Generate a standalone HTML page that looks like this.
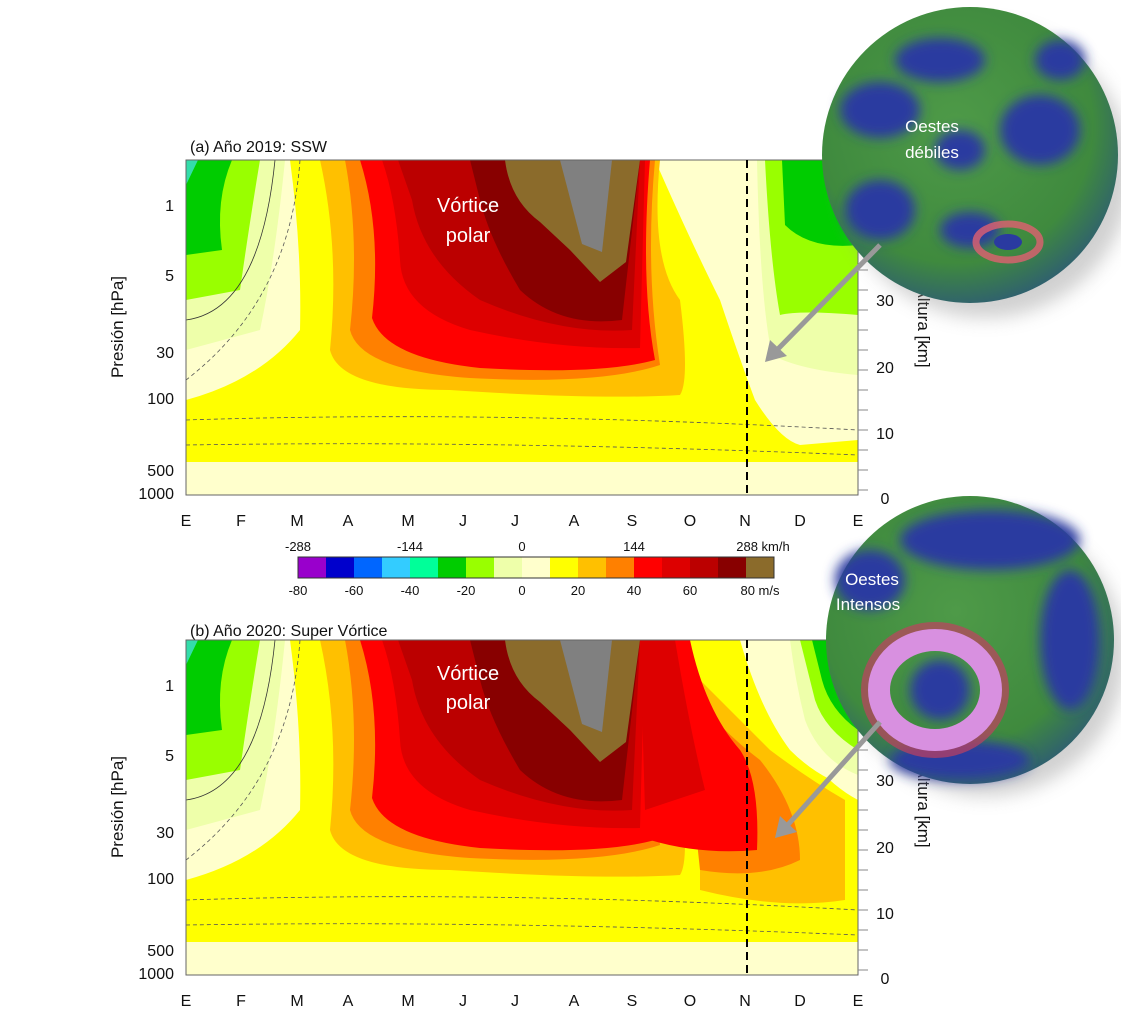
<!DOCTYPE html>
<html><head><meta charset="utf-8"><style>
body{margin:0;background:#fff;}
svg{display:block;font-family:"Liberation Sans",sans-serif;}
</style></head><body>
<svg width="1121" height="1031" viewBox="0 0 1121 1031" xmlns="http://www.w3.org/2000/svg">
<defs>
<radialGradient id="gl" cx="0.45" cy="0.4" r="0.62">
<stop offset="0" stop-color="#4e9a48"/><stop offset="0.75" stop-color="#3f8a3e"/><stop offset="1" stop-color="#2f5f70"/>
</radialGradient>
<filter id="blur"><feGaussianBlur stdDeviation="9"/></filter>
<filter id="blur2"><feGaussianBlur stdDeviation="6"/></filter>
<g id="left">
<rect x="186" y="160" width="672" height="335" fill="#ffffcc"/>
<path d="M186,160 L285,160 Q275,260 260,330 L186,350 Z" fill="#eeffaa"/>
<path d="M186,160 L260,160 Q250,220 240,290 L186,300 Z" fill="#99ff00"/>
<path d="M186,160 L232,160 Q215,200 222,250 L186,255 Z" fill="#00cc00"/>
<path d="M186,160 L198,160 L186,185 Z" fill="#33ddaa"/>
</g>
<g id="axes">
<g fill="none" stroke="#555" stroke-width="0.8" stroke-dasharray="4,3">
<path d="M186,420 Q500,410 858,430"/><path d="M186,445 Q500,440 858,455"/><path d="M300,160 Q290,300 186,380"/>
</g>
<path d="M186,320 Q260,310 275,160" fill="none" stroke="#333" stroke-width="0.8"/>
<rect x="186" y="160" width="672" height="335" fill="none" stroke="#666" stroke-width="1"/>
<g stroke="#888" stroke-width="1">
<path d="M858,170h10M858,190h10M858,210h10M858,230h10M858,250h10M858,270h10M858,290h10M858,310h10M858,330h10M858,350h10M858,370h10M858,390h10M858,410h10M858,430h10M858,450h10M858,470h10M858,490h10"/>
</g>
<line x1="747" y1="160" x2="747" y2="495" stroke="#000" stroke-width="2" stroke-dasharray="8,5"/>
<g font-size="16" fill="#111" text-anchor="end">
<text x="174" y="211">1</text><text x="174" y="281">5</text><text x="174" y="358">30</text>
<text x="174" y="404">100</text><text x="174" y="476">500</text><text x="174" y="499">1000</text>
</g>
<g font-size="16" fill="#111" text-anchor="middle">
<text x="885" y="306">30</text><text x="885" y="373">20</text><text x="885" y="439">10</text><text x="885" y="504">0</text>
</g>
<g font-size="16" fill="#111" text-anchor="middle">
<text x="186" y="526">E</text><text x="241" y="526">F</text><text x="297" y="526">M</text><text x="348" y="526">A</text>
<text x="408" y="526">M</text><text x="463" y="526">J</text><text x="515" y="526">J</text><text x="574" y="526">A</text>
<text x="632" y="526">S</text><text x="690" y="526">O</text><text x="745" y="526">N</text><text x="800" y="526">D</text><text x="858" y="526">E</text>
</g>
<text transform="translate(123,327) rotate(-90)" font-size="17" text-anchor="middle" fill="#111">Presión [hPa]</text>
<text transform="translate(918,327) rotate(90)" font-size="17" text-anchor="middle" fill="#111">Altura [km]</text>
</g>
<g id="core">
<path d="M320,160 L660,160 Q650,260 680,300 Q690,380 680,395 Q600,400 450,390 Q340,390 330,350 Q340,250 320,160 Z" fill="#ffc000"/>
<path d="M345,160 L655,160 Q645,270 660,365 Q600,385 470,378 Q360,370 350,330 Q360,240 345,160 Z" fill="#ff8000"/>
<path d="M360,160 L650,160 Q640,280 655,360 Q600,375 480,368 Q385,358 372,318 Q382,230 360,160 Z" fill="#ff0000"/>
<path d="M382,160 L645,160 L640,348 Q560,350 470,330 Q402,310 400,260 Q396,200 382,160Z" fill="#dd0000"/>
<path d="M398,160 L640,160 L632,330 Q560,335 480,300 Q422,260 412,200 Z" fill="#bb0000"/>
<path d="M470,160 L640,160 L622,320 Q560,328 520,290 Q490,240 480,200 Z" fill="#880000"/>
<path d="M505,160 L640,160 L626,262 L600,282 L570,250 L540,222 Q510,200 505,160Z" fill="#8b6b2b"/>
<path d="M560,160 L612,160 L602,252 L582,244 Z" fill="#808080"/>
</g>
</defs>

<!-- Panel a -->
<use href="#left"/>
<path d="M290,160 L655,160 Q690,240 720,300 Q740,360 755,400 Q780,440 800,445 L858,440 L858,462 L186,462 L186,400 Q260,380 300,330 Q302,250 290,160 Z" fill="#ffff00"/>
<use href="#core"/>
<path d="M757,160 L858,160 L858,375 Q800,370 772,355 Q760,300 757,160Z" fill="#eeffaa"/>
<path d="M765,160 L858,160 L858,315 Q800,310 780,315 Q770,260 765,160Z" fill="#99ff00"/>
<path d="M782,160 L858,160 L858,245 Q810,250 785,225Z" fill="#00cc00"/>
<use href="#axes"/>
<text x="190" y="152" font-size="16" fill="#111">(a) Año 2019: SSW</text>
<text x="468" y="212" font-size="20" fill="#fff" text-anchor="middle">Vórtice</text>
<text x="468" y="242" font-size="20" fill="#fff" text-anchor="middle">polar</text>

<!-- Panel b -->
<g transform="translate(0,480)">
<use href="#left"/>
<path d="M290,160 L740,160 Q760,230 790,270 Q820,300 858,310 L858,462 L186,462 L186,400 Q260,380 300,330 Q302,250 290,160 Z" fill="#ffff00"/>
<path d="M700,200 Q740,240 770,270 Q810,300 845,320 L845,420 Q780,430 700,410 Z" fill="#ffc000"/>
<path d="M680,200 Q720,250 760,280 Q800,330 800,380 Q760,400 700,390 Z" fill="#ff8000"/>
<use href="#core"/>
<path d="M640,160 L690,160 Q705,230 740,270 Q760,300 757,370 Q700,375 650,360 Z" fill="#ff0000"/>
<path d="M640,160 L675,160 Q690,250 705,310 L645,330 Z" fill="#dd0000"/>
<path d="M760,160 L858,160 L858,320 Q820,300 790,250 Q770,200 760,160Z" fill="#ffffcc"/>
<path d="M790,160 L858,160 L858,295 Q820,280 805,240 Q795,200 790,160Z" fill="#eeffaa"/>
<path d="M800,160 L858,160 L858,270 Q825,250 815,220Z" fill="#99ff00"/>
<path d="M812,160 L858,160 L858,250 Q830,230 822,200Z" fill="#00cc00"/>
<use href="#axes"/>
</g>
<text x="190" y="636" font-size="16" fill="#111">(b) Año 2020: Super Vórtice</text>
<text x="468" y="680" font-size="20" fill="#fff" text-anchor="middle">Vórtice</text>
<text x="468" y="709" font-size="20" fill="#fff" text-anchor="middle">polar</text>

<!-- colorbar -->
<g>
<rect x="298" y="557" width="28" height="21" fill="#9900cc"/><rect x="326" y="557" width="28" height="21" fill="#0000cc"/>
<rect x="354" y="557" width="28" height="21" fill="#0066ff"/><rect x="382" y="557" width="28" height="21" fill="#33ccff"/>
<rect x="410" y="557" width="28" height="21" fill="#00ff99"/><rect x="438" y="557" width="28" height="21" fill="#00cc00"/>
<rect x="466" y="557" width="28" height="21" fill="#99ff00"/><rect x="494" y="557" width="28" height="21" fill="#eeffaa"/>
<rect x="522" y="557" width="28" height="21" fill="#ffffcc"/><rect x="550" y="557" width="28" height="21" fill="#ffff00"/>
<rect x="578" y="557" width="28" height="21" fill="#ffc000"/><rect x="606" y="557" width="28" height="21" fill="#ff8000"/>
<rect x="634" y="557" width="28" height="21" fill="#ff0000"/><rect x="662" y="557" width="28" height="21" fill="#dd0000"/>
<rect x="690" y="557" width="28" height="21" fill="#bb0000"/><rect x="718" y="557" width="28" height="21" fill="#880000"/>
<rect x="746" y="557" width="28" height="21" fill="#8b6b2b"/>
<rect x="298" y="557" width="476" height="21" fill="none" stroke="#333"/>
</g>
<g font-size="13" fill="#111" text-anchor="middle">
<text x="298" y="551">-288</text><text x="410" y="551">-144</text><text x="522" y="551">0</text><text x="634" y="551">144</text><text x="763" y="551">288 km/h</text>
<text x="298" y="595">-80</text><text x="354" y="595">-60</text><text x="410" y="595">-40</text><text x="466" y="595">-20</text>
<text x="522" y="595">0</text><text x="578" y="595">20</text><text x="634" y="595">40</text><text x="690" y="595">60</text><text x="760" y="595">80 m/s</text>
</g>

<!-- globes -->
<circle cx="985" cy="172" r="146" fill="#999" opacity="0.45" filter="url(#blur)"/>
<circle cx="970" cy="155" r="148" fill="url(#gl)"/>
<g fill="#2a3aa0" filter="url(#blur2)">
<ellipse cx="880" cy="110" rx="40" ry="28"/><ellipse cx="940" cy="60" rx="45" ry="22"/>
<ellipse cx="1040" cy="130" rx="40" ry="35"/><ellipse cx="880" cy="210" rx="35" ry="30"/>
<ellipse cx="970" cy="230" rx="30" ry="18"/><ellipse cx="1060" cy="60" rx="25" ry="20"/>
<ellipse cx="960" cy="150" rx="25" ry="20"/>
</g>
<ellipse cx="1008" cy="242" rx="32" ry="18" fill="none" stroke="#e06070" stroke-width="7" opacity="0.8"/>
<ellipse cx="1008" cy="242" rx="14" ry="8" fill="#2a3aa0"/>
<text x="932" y="132" font-size="17" fill="#fff" text-anchor="middle">Oestes</text>
<text x="932" y="158" font-size="17" fill="#fff" text-anchor="middle">débiles</text>

<circle cx="985" cy="656" r="140" fill="#999" opacity="0.45" filter="url(#blur)"/>
<circle cx="970" cy="640" r="144" fill="url(#gl)"/>
<g fill="#2a3aa0" filter="url(#blur2)">
<ellipse cx="990" cy="540" rx="90" ry="30"/><ellipse cx="1070" cy="640" rx="30" ry="70"/>
<ellipse cx="870" cy="580" rx="35" ry="30"/><ellipse cx="960" cy="760" rx="70" ry="20"/>
<ellipse cx="940" cy="690" rx="30" ry="30"/>
</g>
<ellipse cx="935" cy="690" rx="70" ry="64" fill="none" stroke="#c04060" stroke-width="8" opacity="0.7"/>
<ellipse cx="935" cy="690" rx="56" ry="50" fill="none" stroke="#d890e0" stroke-width="22"/>
<text x="872" y="585" font-size="17" fill="#fff" text-anchor="middle">Oestes</text>
<text x="868" y="610" font-size="17" fill="#fff" text-anchor="middle">Intensos</text>

<g stroke="#999" stroke-width="5" fill="#999">
<line x1="880" y1="245" x2="775" y2="352"/><polygon points="765,362 770,340 787,356" stroke="none"/>
<line x1="880" y1="722" x2="785" y2="828"/><polygon points="775,838 780,816 797,832" stroke="none"/>
</g>
</svg>
</body></html>
